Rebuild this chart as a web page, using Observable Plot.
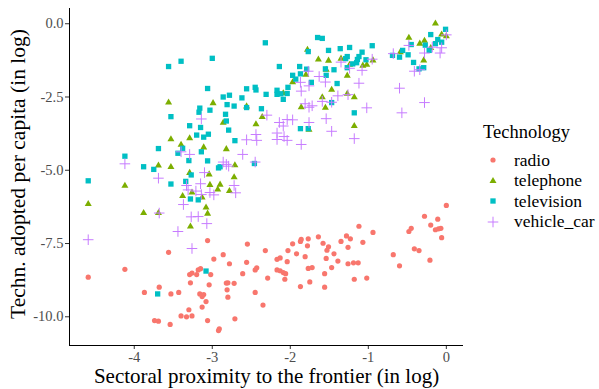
<!DOCTYPE html>
<html><head><meta charset="utf-8">
<script src="https://cdn.jsdelivr.net/npm/d3@7"></script>
<script src="https://cdn.jsdelivr.net/npm/@observablehq/plot@0.6"></script>
<style>
body{margin:0;background:#fff;}
#wrap{position:relative;width:599px;height:389px;font-family:"Liberation Serif","Times New Roman",serif;color:#000;}
#legend{position:absolute;left:483px;top:121px;font-family:"Liberation Serif","Times New Roman",serif;}
#legend .title{font-size:18.5px;line-height:22px;height:29px;}
#legend .row{display:flex;align-items:center;height:20.5px;font-size:17.5px;}
#legend .row svg{margin-left:2px;margin-right:13px;}
svg text{font-family:"Liberation Serif","Times New Roman",serif;}
</style></head><body><div id="wrap"></div>
<script>
const technologies = ["radio","telephone","television","vehicle_car"];
const colors = ["#F8766D","#7CAE00","#00BFC4","#C77CFF"];
const xTicks = [-4,-3,-2,-1,0];
const yTicks = [0,-2.5,-5,-7.5,-10];

const radio = [[-4.59,-8.65],[-4.12,-8.38],[-3.87,-9.17],[-3.68,-8.99],[-3.74,-10.13],[-3.69,-10.15],[-3.54,-10.26],[-3.53,-9.22],[-3.56,-7.80],[-3.43,-9.17],[-3.40,-9.97],[-3.33,-10.0],[-3.30,-9.76],[-3.26,-9.97],[-3.29,-8.56],[-3.26,-8.51],[-3.28,-8.84],[-3.20,-8.56],[-3.18,-8.40],[-3.15,-8.36],[-3.16,-9.22],[-3.13,-9.31],[-3.11,-9.24],[-3.13,-9.67],[-3.08,-9.48],[-3.06,-7.40],[-3.02,-8.56],[-3.04,-8.91],[-3.06,-10.13],[-2.98,-8.03],[-2.91,-10.41],[-2.92,-10.47],[-2.86,-7.88],[-2.78,-8.19],[-2.82,-8.85],[-2.80,-8.84],[-2.81,-9.08],[-2.80,-9.33],[-2.72,-8.86],[-2.71,-10.07],[-2.61,-8.53],[-2.55,-7.52],[-2.56,-8.14],[-2.45,-8.40],[-2.43,-8.33],[-2.45,-9.17],[-2.35,-9.60],[-2.32,-7.74],[-2.29,-8.68],[-2.17,-8.04],[-2.13,-7.99],[-2.17,-8.40],[-2.13,-8.43],[-2.09,-8.49],[-2.06,-8.53],[-2.07,-8.72],[-2.04,-8.12],[-2.03,-7.74],[-1.97,-7.51],[-1.92,-7.85],[-1.87,-7.43],[-1.86,-7.36],[-1.87,-8.97],[-1.81,-7.95],[-1.78,-7.58],[-1.77,-7.34],[-1.77,-8.35],[-1.72,-8.32],[-1.75,-8.81],[-1.64,-7.27],[-1.58,-7.49],[-1.51,-7.61],[-1.53,-7.73],[-1.54,-8.01],[-1.56,-8.53],[-1.56,-8.99],[-1.44,-7.85],[-1.39,-8.10],[-1.47,-8.32],[-1.35,-7.43],[-1.28,-7.24],[-1.23,-7.34],[-1.26,-7.63],[-1.26,-8.19],[-1.19,-8.16],[-1.13,-8.16],[-1.18,-8.72],[-1.12,-6.91],[-1.07,-7.46],[-1.02,-8.68],[-0.94,-7.12],[-0.68,-7.88],[-0.60,-8.26],[-0.48,-7.09],[-0.45,-6.98],[-0.41,-7.68],[-0.35,-7.74],[-0.28,-6.57],[-0.20,-6.87],[-0.21,-8.07],[-0.11,-6.67],[-0.14,-7.03],[-0.10,-7.00],[-0.07,-6.98],[-0.06,-7.30],[0.00,-6.20]];

const telephone = [[-4.59,-6.15],[-4.12,-5.53],[-3.88,-6.46],[-3.69,-6.46],[-3.69,-4.84],[-3.53,-4.89],[-3.29,-5.09],[-3.38,-5.88],[-3.26,-5.76],[-3.56,-2.69],[-3.53,-3.94],[-3.29,-3.91],[-3.40,-4.13],[-3.11,-4.22],[-2.99,-2.71],[-3.04,-5.14],[-3.03,-5.50],[-2.90,-5.49],[-2.93,-5.66],[-2.78,-5.71],[-2.72,-5.24],[-2.71,-4.83],[-2.82,-4.28],[-2.86,-3.38],[-2.56,-2.82],[-2.44,-3.43],[-2.36,-3.18],[-3.13,-5.93],[-3.08,-6.27],[-3.06,-6.48],[-3.28,-6.92],[-2.09,-2.37],[-1.97,-2.00],[-1.78,-0.89],[-1.64,-1.22],[-1.51,-1.26],[-1.54,-1.57],[-1.80,-1.74],[-1.86,-2.85],[-1.59,-2.51],[-1.55,-2.87],[-1.76,-3.62],[-1.35,-1.19],[-1.24,-1.40],[-1.07,-1.43],[-1.02,-1.40],[-0.94,-1.25],[-1.27,-1.77],[-1.47,-2.25],[-1.27,-2.39],[-1.18,-2.51],[-1.18,-3.49],[-0.48,-0.48],[-0.34,-0.68],[-0.28,-0.58],[-0.59,-0.97],[-0.29,-1.25],[-0.14,0.01],[-0.06,-0.37],[0.00,-0.43],[-0.20,-0.83]];

const television = [[-4.59,-5.36],[-4.12,-4.52],[-3.88,-4.88],[-3.75,-4.97],[-3.69,-4.26],[-3.56,-1.46],[-3.40,-1.28],[-3.00,-1.18],[-3.53,-3.17],[-3.29,-3.48],[-3.20,-3.80],[-3.38,-4.25],[-3.44,-4.42],[-3.53,-5.47],[-3.34,-5.38],[-3.30,-4.67],[-3.27,-5.16],[-3.28,-5.98],[-3.18,-6.01],[-3.14,-4.37],[-3.06,-4.68],[-3.06,-2.21],[-3.16,-2.88],[-3.17,-3.02],[-3.03,-2.95],[-3.15,-3.54],[-3.11,-3.87],[-3.05,-3.77],[-2.92,-4.92],[-2.90,-4.88],[-3.08,-8.44],[-3.70,-9.22],[-2.86,-2.50],[-2.78,-2.44],[-2.83,-3.09],[-2.81,-2.76],[-2.72,-2.81],[-2.82,-3.32],[-2.79,-3.63],[-2.71,-3.99],[-2.62,-2.53],[-2.56,-2.22],[-2.45,-2.17],[-2.44,-2.26],[-2.56,-2.86],[-2.46,-4.77],[-2.37,-2.90],[-2.31,-2.41],[-2.32,-0.65],[-2.14,-1.46],[-2.17,-2.27],[-2.17,-2.41],[-2.12,-2.39],[-2.09,-2.58],[-2.04,-2.38],[-2.03,-2.17],[-1.97,-1.76],[-1.93,-1.89],[-1.87,-1.71],[-1.88,-1.46],[-1.79,-1.55],[-1.77,-0.95],[-1.65,-0.47],[-1.59,-0.50],[-1.73,-2.00],[-1.55,-1.54],[-1.54,-1.76],[-1.51,-0.91],[-1.87,-3.58],[-1.77,-3.58],[-1.36,-0.85],[-1.24,-0.81],[-0.95,-0.75],[-1.08,-0.97],[-1.29,-1.19],[-1.27,-1.12],[-1.12,-1.12],[-1.14,-1.22],[-1.20,-1.37],[-1.15,-1.33],[-1.03,-1.23],[-1.44,-1.57],[-1.27,-1.50],[-1.40,-2.04],[-1.47,-2.69],[-1.18,-3.04],[-0.69,-1.08],[-0.56,-0.91],[-0.60,-1.14],[-0.49,-1.06],[-0.45,-0.71],[-0.42,-1.32],[-0.35,-1.54],[-0.29,-1.50],[-0.27,-0.73],[-0.22,-0.91],[-0.20,-0.37],[-0.14,-0.68],[-0.11,-0.54],[-0.06,-0.63],[-0.01,-0.19]];

const vehicle_car = [[-4.59,-7.37],[-4.12,-4.78],[-3.69,-5.27],[-3.68,-6.46],[-3.44,-7.09],[-3.37,-6.17],[-3.33,-5.52],[-3.31,-5.67],[-3.27,-6.59],[-3.26,-7.67],[-3.21,-5.71],[-3.18,-6.58],[-3.15,-5.46],[-3.14,-5.83],[-3.10,-5.08],[-3.07,-6.82],[-3.03,-5.76],[-2.98,-5.84],[-2.86,-4.72],[-2.82,-4.80],[-2.79,-4.86],[-2.72,-5.52],[-2.70,-5.77],[-2.61,-4.46],[-2.45,-4.72],[-3.40,-4.37],[-3.29,-4.46],[-3.14,-3.25],[-2.56,-3.96],[-2.44,-3.78],[-2.43,-3.98],[-2.30,-3.12],[-2.14,-3.37],[-2.09,-3.49],[-2.04,-3.27],[-1.97,-3.28],[-2.17,-3.73],[-2.17,-3.95],[-2.08,-3.85],[-2.04,-3.98],[-1.86,-4.12],[-1.87,-2.00],[-1.77,-1.62],[-1.76,-2.12],[-1.86,-2.30],[-1.63,-1.80],[-1.55,-1.99],[-1.81,-2.73],[-1.76,-2.85],[-1.72,-2.80],[-1.76,-3.37],[-1.59,-2.65],[-1.54,-3.24],[-1.35,-1.31],[-1.24,-1.52],[-1.08,-1.59],[-0.95,-1.21],[-1.12,-2.03],[-1.39,-2.46],[-1.26,-2.42],[-1.47,-2.68],[-1.02,-2.87],[-1.47,-3.67],[-1.18,-3.92],[-0.68,-1.02],[-0.48,-0.74],[-0.28,-1.00],[-0.18,-0.80],[-0.08,-1.00],[-0.06,-0.82],[0.00,-0.38],[-0.41,-1.62],[-0.34,-1.57],[-0.60,-2.20],[-0.28,-2.69],[-0.57,-3.04]];

const xLabel = "Sectoral proximity to the frontier (in log)";
const yLabel = "Techn. adopted per capita (in log)";
const legendTitle = "Technology";

const series = [radio, telephone, television, vehicle_car];
const symbols = ["circle","triangle","square","plus"];
const radii = [2.6, 2.6, 3.0, 3.5];
const xDomain = [-4.83, 0.22];
const yDomain = [-10.98, 0.52];
const font = '"Liberation Serif","Times New Roman",serif';

const pts = series.map((s, i) => s.map(([x, y]) => ({tech: technologies[i], x, y})));

const dotMarks = pts.map((d, i) => symbols[i] === "plus"
  ? Plot.dot(d, {x: "x", y: "y", symbol: "plus", r: radii[i], stroke: colors[i], strokeWidth: 1})
  : Plot.dot(d, {x: "x", y: "y", symbol: symbols[i], r: radii[i], fill: colors[i], stroke: "none"}));

const plot = Plot.plot({
  width: 599, height: 389,
  marginLeft: 69, marginRight: 136, marginTop: 8, marginBottom: 44,
  style: {fontFamily: font, background: "white", overflow: "visible"},
  x: {domain: xDomain},
  y: {domain: yDomain},
  marks: [
    Plot.axisX({ticks: xTicks, tickFormat: d => String(d), tickSize: 4, tickPadding: 2, fontSize: 14.5, fontFamily: font, stroke: "#333", fill: "#4d4d4d", label: null}),
    Plot.axisY({ticks: yTicks, tickFormat: d => d.toFixed(1), tickSize: 4, tickPadding: 2, fontSize: 14.5, fontFamily: font, stroke: "#333", fill: "#4d4d4d", label: null}),
    Plot.ruleX([xDomain[0]], {stroke: "black", strokeWidth: 1}),
    Plot.ruleY([yDomain[0]], {stroke: "black", strokeWidth: 1}),
    ...dotMarks,
    Plot.text([xLabel], {frameAnchor: "bottom", textAnchor: "middle", lineAnchor: "middle", dy: 31, fontSize: 21, fill: "black", fontFamily: font}),
    Plot.text([yLabel], {frameAnchor: "left", textAnchor: "middle", lineAnchor: "middle", dx: -51.5, dy: -3, rotate: -90, fontSize: 21.5, fill: "black", fontFamily: font})
  ]
});

const wrap = document.getElementById("wrap");
wrap.appendChild(plot);

const legend = document.createElement("div");
legend.id = "legend";
let html = `<div class="title">${legendTitle}</div>`;
technologies.forEach((t, i) => {
  const size = Math.PI * radii[i] * radii[i];
  const sym = {circle: d3.symbolCircle, triangle: d3.symbolTriangle, square: d3.symbolSquare, plus: d3.symbolPlus}[symbols[i]];
  const path = d3.symbol(sym, size)();
  const style = symbols[i] === "plus" ? `fill="none" stroke="${colors[i]}" stroke-width="1"` : `fill="${colors[i]}"`;
  html += `<div class="row"><svg width="16" height="16" viewBox="-8 -8 16 16"><path d="${path}" ${style}/></svg><span>${t}</span></div>`;
});
legend.innerHTML = html;
wrap.appendChild(legend);
</script></body></html>
